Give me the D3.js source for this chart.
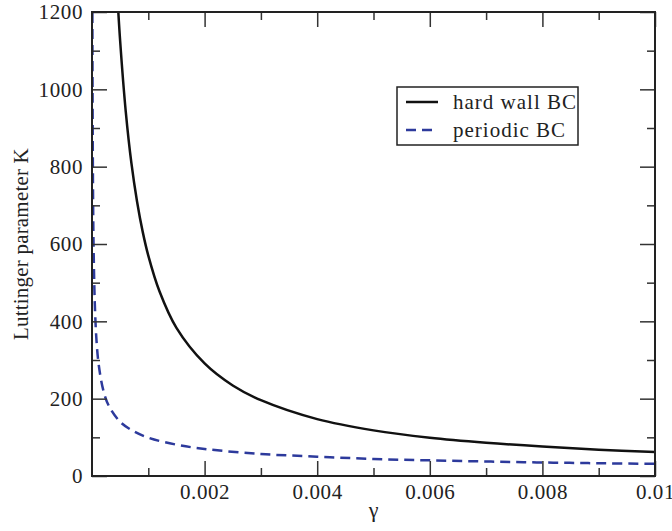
<!DOCTYPE html>
<html>
<head>
<meta charset="utf-8">
<script src="https://cdn.jsdelivr.net/npm/d3@7"></script>
<style>
  body { margin: 0; background: #fff; }
</style>
</head>
<body>
<div id="vis-container"></div>
<script>
// values
var hardGamma = [0.00045, 0.0005, 0.0006, 0.0007, 0.0008, 0.0009, 0.001, 0.0012, 0.0015, 0.002, 0.0025,
                 0.003, 0.004, 0.005, 0.006, 0.007, 0.008, 0.009, 0.01];
var hardK     = [1245, 1125, 942, 809, 710, 632, 570, 477, 383, 291, 234,
                 196, 147, 118, 99, 86, 76, 68, 62];
var periodicGamma = [0.000006, 0.00001, 0.00002, 0.00003, 0.00005, 0.00008, 0.00012, 0.0002, 0.0003,
                     0.0005, 0.0007, 0.001, 0.0015, 0.002, 0.003, 0.004, 0.005, 0.006, 0.007,
                     0.008, 0.009, 0.01];
var periodicK     = [1280, 990, 700, 575, 445, 350, 287, 222, 181,
                     140, 119, 99, 81, 70, 57, 50, 44, 40.5, 37.5,
                     35, 33, 31.5];
var xMajorTicks = [0.002, 0.004, 0.006, 0.008, 0.01];
var xMinorTicks = [0.001, 0.003, 0.005, 0.007, 0.009];
var yMajorTicks = [0, 200, 400, 600, 800, 1000, 1200];
var yMinorTicks = [100, 300, 500, 700, 900, 1100];
var legendNames = ["hard wall BC", "periodic BC"];

var serif = "'Liberation Serif', 'Times New Roman', Times, serif";
var fs = 21;

var margin = {top: 12, right: 17, bottom: 55, left: 92},
    width = 672 - margin.left - margin.right,
    height = 531 - margin.top - margin.bottom;

var x = d3.scaleLinear().domain([0, 0.01]).range([0, width]);
var y = d3.scaleLinear().domain([0, 1200]).range([height, 0]);

var svg = d3.select("#vis-container").append("svg")
    .attr("width", 672)
    .attr("height", 531)
    .style("font-family", serif)
    .append("g")
    .attr("transform", "translate(" + margin.left + "," + margin.top + ")");

svg.append("clipPath").attr("id", "plotclip")
    .append("rect").attr("width", width).attr("height", height);

var hardData = hardGamma.map(function(g, i) { return [g, hardK[i]]; });
var periodicData = periodicGamma.map(function(g, i) { return [g, periodicK[i]]; });

var line = d3.line()
    .x(function(d) { return x(d[0]); })
    .y(function(d) { return y(d[1]); })
    .curve(d3.curveCatmullRom.alpha(0.5));

var plot = svg.append("g").attr("clip-path", "url(#plotclip)");

plot.append("path")
    .datum(periodicData)
    .attr("d", line)
    .attr("fill", "none")
    .attr("stroke", "#2d3a9c")
    .attr("stroke-width", 2.5)
    .attr("stroke-dasharray", "10,6");

plot.append("path")
    .datum(hardData)
    .attr("d", line)
    .attr("fill", "none")
    .attr("stroke", "#111")
    .attr("stroke-width", 2.5);

// axes, ticks pointing inward on all four sides
function styleAxis(g) {
    g.attr("font-family", null);
    g.select(".domain").remove();
    g.selectAll(".tick line").attr("stroke", "#333").attr("stroke-width", 1.5);
    g.selectAll(".tick text")
        .style("font-family", serif)
        .style("font-size", fs + "px")
        .style("letter-spacing", "0.6px")
        .attr("fill", "#222");
}

svg.append("g")
    .attr("transform", "translate(0," + height + ")")
    .call(d3.axisBottom(x).tickValues(xMajorTicks).tickSize(-15).tickPadding(8)
        .tickFormat(function(d) { return d === 0.01 ? "0.01" : d3.format(".3f")(d); }))
    .call(styleAxis);
svg.append("g")
    .attr("transform", "translate(0," + height + ")")
    .call(d3.axisBottom(x).tickValues(xMinorTicks).tickSize(-8).tickFormat(""))
    .call(styleAxis);
svg.append("g")
    .call(d3.axisTop(x).tickValues(xMajorTicks).tickSize(-15).tickFormat(""))
    .call(styleAxis);
svg.append("g")
    .call(d3.axisTop(x).tickValues(xMinorTicks).tickSize(-8).tickFormat(""))
    .call(styleAxis);

svg.append("g")
    .call(d3.axisLeft(y).tickValues(yMajorTicks).tickSize(-15).tickPadding(9).tickFormat(d3.format("d")))
    .call(styleAxis);
svg.append("g")
    .call(d3.axisLeft(y).tickValues(yMinorTicks).tickSize(-8).tickFormat(""))
    .call(styleAxis);
svg.append("g")
    .attr("transform", "translate(" + width + ",0)")
    .call(d3.axisRight(y).tickValues(yMajorTicks).tickSize(-15).tickFormat(""))
    .call(styleAxis);
svg.append("g")
    .attr("transform", "translate(" + width + ",0)")
    .call(d3.axisRight(y).tickValues(yMinorTicks).tickSize(-8).tickFormat(""))
    .call(styleAxis);

// frame
svg.append("rect")
    .attr("width", width)
    .attr("height", height)
    .attr("fill", "none")
    .attr("stroke", "#222")
    .attr("stroke-width", 2);

// axis titles
svg.append("text")
    .attr("x", width / 2)
    .attr("y", height + 41)
    .attr("text-anchor", "middle")
    .attr("fill", "#222")
    .style("font-family", serif)
    .style("font-size", (fs + 1) + "px")
    .text("γ");

svg.append("text")
    .attr("transform", "translate(-64," + (height / 2) + ") rotate(-90)")
    .attr("text-anchor", "middle")
    .attr("fill", "#222")
    .style("font-family", serif)
    .style("font-size", fs + "px")
    .style("letter-spacing", "0.2px")
    .text("Luttinger parameter K");

// legend
var legend = svg.append("g").attr("transform", "translate(305,75)");
legend.append("rect")
    .attr("width", 181)
    .attr("height", 58)
    .attr("fill", "#fff")
    .attr("stroke", "#222")
    .attr("stroke-width", 1.5);

legend.selectAll(".leg-line")
    .data(legendNames)
    .enter().append("line")
    .attr("x1", 9).attr("x2", 41)
    .attr("y1", function(d, i) { return 15 + i * 28; })
    .attr("y2", function(d, i) { return 15 + i * 28; })
    .attr("stroke", function(d, i) { return i === 0 ? "#111" : "#2d3a9c"; })
    .attr("stroke-width", 2.5)
    .attr("stroke-dasharray", function(d, i) { return i === 0 ? null : "10,6"; });

legend.selectAll(".leg-text")
    .data(legendNames)
    .enter().append("text")
    .attr("x", 56)
    .attr("y", function(d, i) { return 22 + i * 28; })
    .attr("fill", "#222")
    .style("font-family", serif)
    .style("font-size", fs + "px")
    .style("letter-spacing", "1px")
    .text(function(d) { return d; });
</script>
</body>
</html>
